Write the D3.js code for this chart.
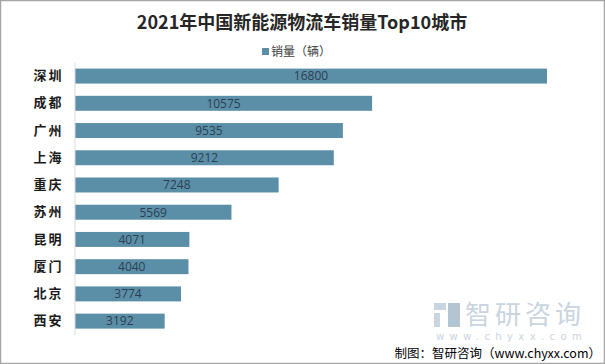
<!DOCTYPE html>
<html>
<head>
<meta charset="utf-8">
<script src="https://cdn.jsdelivr.net/npm/d3@7"></script>
<style>
  body { margin: 0; background: #fff; }
  svg { display: block; }
</style>
</head>
<body>
<div id="chart"><svg width="605" height="364"></svg></div>
<script>
// data
var cities = ["深圳", "成都", "广州", "上海", "重庆", "苏州", "昆明", "厦门", "北京", "西安"];
var sales = [16800, 10575, 9535, 9212, 7248, 5569, 4071, 4040, 3774, 3192];
var seriesName = "销量（辆）";
var title = "2021年中国新能源物流车销量Top10城市";

var data = cities.map(function(c, i){ return {city: c, value: sales[i]} });

var svg = d3.select("#chart").select("svg");
var font = "'Noto Sans CJK SC', 'Microsoft YaHei', sans-serif";

// outer frame
svg.append("rect")
   .attr("x", 0.5).attr("y", 0.5)
   .attr("width", 604).attr("height", 363)
   .attr("fill", "#fff")
   .attr("stroke", "#a6a6a6")
   .attr("stroke-width", 1.5);

// scales
var xScale = d3.scaleLinear().domain([0, 18000]).range([75, 580.7]);
var yScale = d3.scaleBand().domain(cities).range([62.6, 334.6]).paddingInner(0.45).paddingOuter(0.22);

// title
svg.append("text")
   .attr("x", 302).attr("y", 29)
   .attr("text-anchor", "middle")
   .attr("font-family", font)
   .attr("font-weight", "bold")
   .attr("font-size", 18)
   .attr("fill", "#262626")
   .text(title);

// legend
svg.append("rect")
   .attr("x", 262).attr("y", 48)
   .attr("width", 7).attr("height", 7)
   .attr("fill", "#5b8fa8");
svg.append("text")
   .attr("x", 271).attr("y", 56)
   .attr("font-family", font)
   .attr("font-size", 12)
   .attr("fill", "#404040")
   .text(seriesName);

// watermark
var wm = svg.append("g").attr("fill", "#c9d5df");
wm.append("rect").attr("x", 434).attr("y", 303).attr("width", 12).attr("height", 7);
wm.append("rect").attr("x", 434).attr("y", 313).attr("width", 6).attr("height", 14);
wm.append("rect").attr("x", 448).attr("y", 303).attr("width", 12).attr("height", 24).attr("fill", "#b3c5d3");
wm.append("text")
   .attr("x", 465).attr("y", 324)
   .attr("font-family", font)
   .attr("font-size", 26)
   .attr("letter-spacing", 4)
   .text("智研咨询");
wm.append("text")
   .attr("x", 436).attr("y", 340)
   .attr("font-family", "'DejaVu Sans', sans-serif")
   .attr("font-size", 10)
   .attr("letter-spacing", 5.4)
   .text("www.chyxx.com");

// source
svg.append("text")
   .attr("x", 601).attr("y", 358)
   .attr("text-anchor", "end")
   .attr("font-family", font)
   .attr("font-size", 12.5)
   .attr("fill", "#000")
   .text("制图：智研咨询（www.chyxx.com）");

// bars
svg.append("g")
   .selectAll("rect")
   .data(data)
   .enter()
   .append("rect")
   .attr("x", xScale(0))
   .attr("y", function(d){ return yScale(d.city) })
   .attr("width", function(d){ return xScale(d.value) - xScale(0) })
   .attr("height", yScale.bandwidth())
   .attr("fill", "#5b8fa8");

// value labels, centered in bar
svg.append("g")
   .selectAll("text")
   .data(data)
   .enter()
   .append("text")
   .attr("x", function(d){ return (xScale(0) + xScale(d.value)) / 2 })
   .attr("y", function(d){ return yScale(d.city) + yScale.bandwidth() / 2 })
   .attr("dy", "0.36em")
   .attr("text-anchor", "middle")
   .attr("font-family", "'Open Sans', 'Liberation Sans', sans-serif")
   .attr("font-size", 12)
   .attr("fill", "#2c3e50")
   .text(function(d){ return d.value });

// y axis
var yAxis = d3.axisLeft(yScale).tickSize(0).tickPadding(11);
var ax = svg.append("g")
   .attr("transform", "translate(74.5,0)")
   .call(yAxis);
ax.select(".domain").attr("stroke", "#d9d9d9");
ax.selectAll("text")
   .attr("font-family", font)
   .attr("font-weight", "bold")
   .attr("font-size", 13)
   .attr("letter-spacing", 2)
   .attr("fill", "#1a1a1a");
</script>
</body>
</html>
